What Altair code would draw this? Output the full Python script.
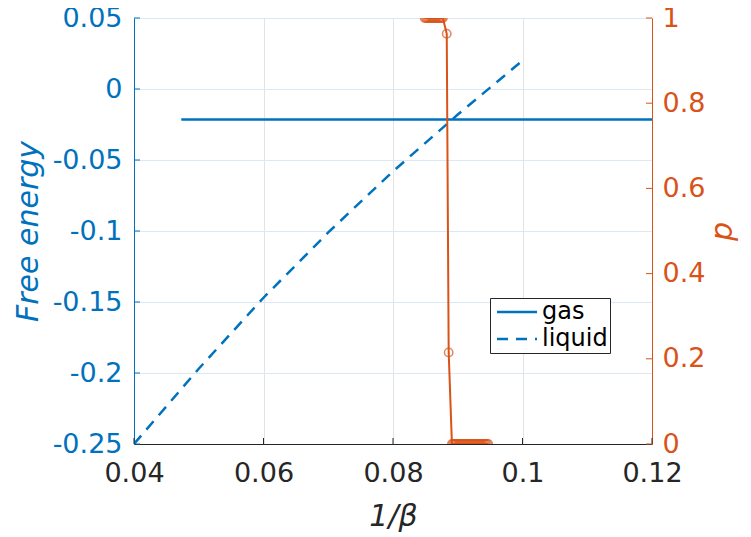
import altair as alt
import pandas as pd

# ---- data ----
liquid_x = [0.04, 0.05, 0.06, 0.07, 0.08, 0.09, 0.10]
liquid_fe = [-0.250, -0.197, -0.147, -0.101, -0.058, -0.018, 0.020]

gas_x = [0.0473, 0.12]
gas_fe = [-0.0215, -0.0215]

p_x = [0.0849, 0.0851, 0.0853, 0.0855, 0.0857, 0.0859, 0.0861, 0.0863,
       0.0865, 0.0867, 0.0869, 0.0871, 0.0873, 0.0875, 0.0877,
       0.0883, 0.0886,
       0.0891, 0.0893, 0.0895, 0.0897, 0.0899, 0.0901, 0.0903, 0.0905,
       0.0907, 0.0909, 0.0911, 0.0913, 0.0915, 0.0917, 0.0919, 0.0921,
       0.0923, 0.0925, 0.0927, 0.0929, 0.0931, 0.0933, 0.0935, 0.0937,
       0.0939, 0.0941, 0.0943, 0.0945, 0.0947]
p_val = [1, 1, 1, 1, 1, 1, 1, 1, 1, 1, 1, 1, 1, 1, 1,
         0.963, 0.215,
         0, 0, 0, 0, 0, 0, 0, 0, 0, 0, 0, 0, 0, 0, 0,
         0, 0, 0, 0, 0, 0, 0, 0, 0, 0, 0, 0, 0, 0]

x_ticks = [0.04, 0.06, 0.08, 0.1, 0.12]
fe_ticks = [-0.25, -0.2, -0.15, -0.1, -0.05, 0, 0.05]
p_ticks = [0, 0.2, 0.4, 0.6, 0.8, 1]

BLUE = "#0072BD"
ORANGE = "#D95319"
DARK = "#262626"
FONT = "DejaVu Sans"
LFS = 27
TFS = 30
W, H = 518, 426

fe_df = pd.concat([
    pd.DataFrame({"x": gas_x, "fe": gas_fe, "series": "gas"}),
    pd.DataFrame({"x": liquid_x, "fe": liquid_fe, "series": "liquid"}),
])
p_df = pd.DataFrame({"x": p_x, "p": p_val})
xt_df = pd.DataFrame({"x": x_ticks})
fet_df = pd.DataFrame({"fe": fe_ticks})
pt_df = pd.DataFrame({"p": p_ticks})

xscale = alt.Scale(domain=[0.04, 0.12], nice=False, zero=False)
fescale = alt.Scale(domain=[-0.25, 0.05], nice=False, zero=False)
pscale = alt.Scale(domain=[0, 1], nice=False, zero=False)

x_axis = alt.Axis(values=x_ticks, title="1/β", titleFontStyle="italic",
                  titleFont=FONT, titleFontSize=TFS, titleFontWeight="normal",
                  titleColor=DARK, titlePadding=15,
                  labelFont=FONT, labelFontSize=LFS, labelColor=DARK,
                  labelPadding=16, ticks=False, tickSize=0, labelFlush=False,
                  labelExpr="toString(round(datum.value*100)/100)",
                  domainColor=DARK, domainWidth=1,
                  grid=True, gridColor="#E3E3E3", gridWidth=1)

fe_axis = alt.Axis(
    values=fe_ticks, title="Free energy", titleFontStyle="italic",
    titleFont=FONT, titleFontSize=TFS, titleFontWeight="normal",
    titleColor=BLUE, titlePadding=9,
    labelFont=FONT, labelFontSize=LFS, labelColor=BLUE, labelPadding=12,
    labelFlush=False,
    labelExpr="toString(round(datum.value*100)/100)",
    ticks=False, tickSize=0, domainColor=BLUE, domainWidth=1,
    grid=True, gridColor="#DCE8F3", gridWidth=1)

p_axis = alt.Axis(
    values=p_ticks, title="p", titleFontStyle="italic", titleAngle=270,
    titleFont=FONT, titleFontSize=TFS, titleFontWeight="normal",
    titleColor=ORANGE, titlePadding=33, orient="right",
    labelFont=FONT, labelFontSize=LFS, labelColor=ORANGE, labelPadding=10,
    labelFlush=False,
    labelExpr="toString(round(datum.value*10)/10)",
    ticks=False, tickSize=0, domainColor=ORANGE, domainWidth=1, grid=False)

lines = alt.Chart(fe_df).mark_line(strokeWidth=2.5, color=BLUE, clip=True).encode(
    x=alt.X("x:Q", scale=xscale, axis=x_axis),
    y=alt.Y("fe:Q", scale=fescale, axis=fe_axis),
    strokeDash=alt.StrokeDash("series:N",
        scale=alt.Scale(domain=["gas", "liquid"], range=[[1, 0], [11, 8]]),
        legend=alt.Legend(title=None, orient="none", legendX=356, legendY=280,
                          symbolType="M-0.7,0H3.3", symbolSize=400,
                          symbolStrokeColor=BLUE, symbolStrokeWidth=2.5,
                          labelFont=FONT, labelFontSize=24, labelColor="#000000",
                          labelOffset=26, rowPadding=3, padding=2,
                          strokeColor=DARK, fillColor="white",
                          cornerRadius=0)),
    order=alt.Order("x:Q"),
)

fe_ticks_layer = alt.Chart(fet_df).mark_rule(color=BLUE, strokeWidth=1).encode(
    y=alt.Y("fe:Q", scale=fescale, axis=fe_axis),
    x=alt.value(0), x2=alt.value(6),
)
x_ticks_layer = alt.Chart(xt_df).mark_rule(color=DARK, strokeWidth=1).encode(
    x=alt.X("x:Q", scale=xscale, axis=x_axis),
    y=alt.value(H), y2=alt.value(H - 6),
)

left = alt.layer(lines, fe_ticks_layer, x_ticks_layer)

p_line = alt.Chart(p_df).mark_line(strokeWidth=2, color=ORANGE, clip=True).encode(
    x=alt.X("x:Q", scale=xscale, axis=x_axis),
    y=alt.Y("p:Q", scale=pscale, axis=p_axis),
)
p_pts = alt.Chart(p_df).mark_point(shape="circle", filled=False, color=ORANGE,
                                   size=70, strokeWidth=1.5, clip=True).encode(
    x=alt.X("x:Q", scale=xscale, axis=x_axis),
    y=alt.Y("p:Q", scale=pscale, axis=p_axis),
)
p_ticks_layer = alt.Chart(pt_df).mark_rule(color=ORANGE, strokeWidth=1).encode(
    y=alt.Y("p:Q", scale=pscale, axis=p_axis),
    x=alt.value(W), x2=alt.value(W - 6),
)
right = alt.layer(p_line, p_pts, p_ticks_layer)

chart = alt.layer(left, right).resolve_scale(y="independent").properties(
    width=W, height=H,
    autosize=alt.AutoSizeParams(type="none"),
    padding={"left": 126, "top": 10, "right": 91, "bottom": 92},
).configure_view(stroke="#8C8C8C", strokeWidth=1).configure(background="white")

chart.save("out.html", embed_options={"renderer": "svg", "actions": False})
